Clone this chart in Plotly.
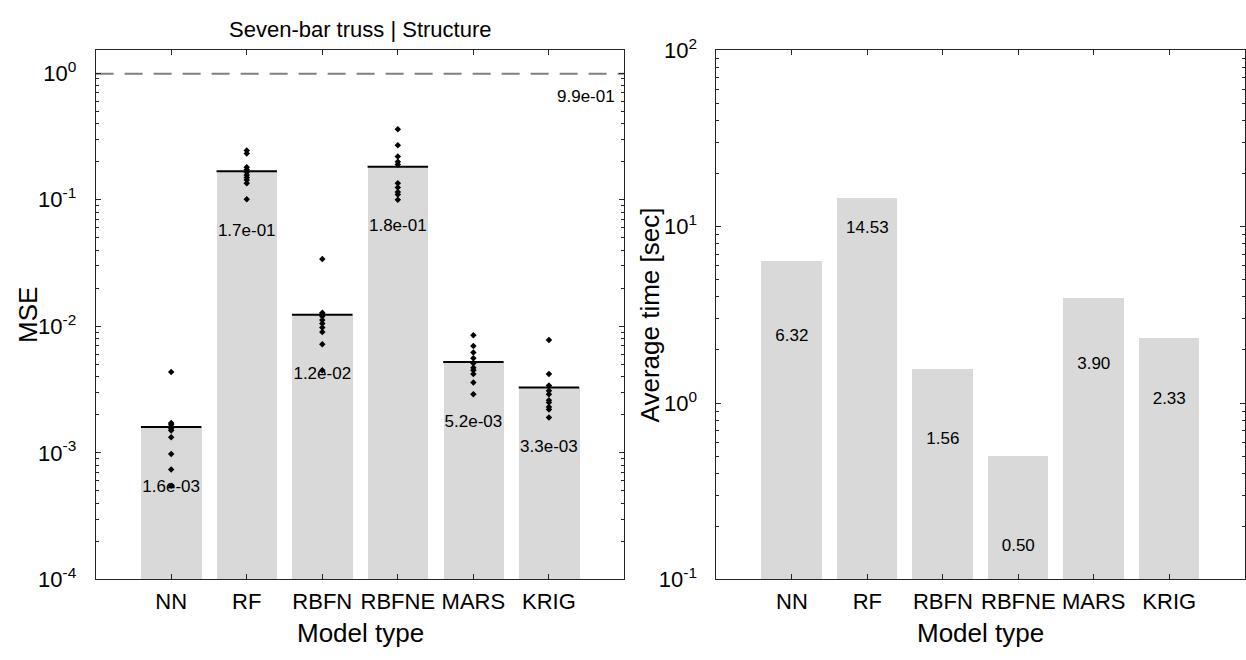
import plotly.graph_objects as go
import numpy as np

# Surrogate model types
models = ["NN", "RF", "RBFN", "RBFNE", "MARS", "KRIG"]

# Per-fold test MSE for each model type
mse_nn = [4.36e-3, 1.72e-3, 1.68e-3, 1.62e-3, 1.55e-3, 1.50e-3, 1.33e-3, 9.8e-4, 7.4e-4, 5.5e-4]
mse_rf = [0.245, 0.232, 0.181, 0.173, 0.165, 0.157, 0.150, 0.143, 0.135, 0.101]
mse_rbfn = [0.034, 0.0128, 0.0125, 0.0120, 0.0112, 0.0105, 0.0098, 0.0090, 0.0072, 0.0045]
mse_rbfne = [0.36, 0.27, 0.22, 0.20, 0.19, 0.135, 0.125, 0.115, 0.11, 0.10]
mse_mars = [0.0085, 0.0070, 0.0062, 0.0056, 0.0051, 0.0047, 0.0045, 0.0042, 0.0036, 0.0029]
mse_krig = [0.0078, 0.0042, 0.0034, 0.0031, 0.0029, 0.0026, 0.0025, 0.0023, 0.0022, 0.0019]

# Reference MSE level (dashed line)
mse_reference = 0.99

# Average training time per model type [sec]
avg_time = [6.32, 14.53, 1.56, 0.50, 3.90, 2.33]

mse_folds = [mse_nn, mse_rf, mse_rbfn, mse_rbfne, mse_mars, mse_krig]
mse_mean = [float(np.mean(v)) for v in mse_folds]
xpos = np.arange(1, len(models) + 1)

W, H = 1246, 660
FONT = "Liberation Sans, Arial, Helvetica, sans-serif"
BAR = "#d9d9d9"
AX = "#262626"
BW = 0.8
# how far (as a factor) each time label sits below the top of its bar
time_label_drop = [2.67, 1.49, 2.51, 3.25, 2.37, 2.24]

fig = go.Figure()

# ---- left panel: MSE ----
fig.add_trace(go.Bar(x=xpos, y=mse_mean, width=BW, marker=dict(color=BAR, line=dict(width=0)),
                     xaxis="x", yaxis="y", showlegend=False, hoverinfo="skip"))

px_, py_ = [], []
for i, vals in enumerate(mse_folds):
    px_ += [xpos[i]] * len(vals)
    py_ += vals
fig.add_trace(go.Scatter(x=px_, y=py_, mode="markers",
                         marker=dict(symbol="diamond", size=5, color="black"),
                         xaxis="x", yaxis="y", showlegend=False))

lx, ly = [], []
for i, m in enumerate(mse_mean):
    lx += [xpos[i] - BW / 2, xpos[i] + BW / 2, None]
    ly += [m, m, None]
fig.add_trace(go.Scatter(x=lx, y=ly, mode="lines", line=dict(color="black", width=2),
                         xaxis="x", yaxis="y", showlegend=False))

fig.add_trace(go.Scatter(x=xpos, y=[m / 3 for m in mse_mean], mode="text",
                         text=[f"{m:.1e}" for m in mse_mean],
                         textfont=dict(family=FONT, size=17, color="black"),
                         xaxis="x", yaxis="y", showlegend=False))

fig.add_trace(go.Scatter(x=[0, 7], y=[mse_reference] * 2, mode="lines",
                         line=dict(color="#808080", width=2, dash="18px,11px"),
                         xaxis="x", yaxis="y", showlegend=False))
fig.add_annotation(x=7, y=np.log10(mse_reference / 1.5), xref="x", yref="y",
                   text=f"{mse_reference:.1e}", showarrow=False, xanchor="right", xshift=-8,
                   yanchor="middle", font=dict(family=FONT, size=17, color="black"))

# ---- right panel: training time ----
fig.add_trace(go.Bar(x=xpos, y=avg_time, width=BW, marker=dict(color=BAR, line=dict(width=0)),
                     xaxis="x2", yaxis="y2", showlegend=False, hoverinfo="skip"))
fig.add_trace(go.Scatter(x=xpos, y=[t / d for t, d in zip(avg_time, time_label_drop)],
                         mode="text", text=[f"{t:.2f}" for t in avg_time],
                         textfont=dict(family=FONT, size=17, color="black"),
                         xaxis="x2", yaxis="y2", showlegend=False))

def log_ticks(lo, hi):
    major = [10.0 ** k for k in range(lo, hi + 1)]
    text = [f"10<sup>{k}</sup>" for k in range(lo, hi + 1)]
    minor = [d * 10.0 ** k for k in range(lo, hi + 1) for d in range(2, 10)]
    return major, text, minor

common_x = dict(range=[0, 7], tickmode="array", tickvals=list(xpos), ticktext=models,
                ticks="inside", ticklen=5, tickcolor=AX, showline=True, linecolor=AX,
                linewidth=1, mirror="allticks", showgrid=False, zeroline=False,
                ticklabelstandoff=2,
                tickfont=dict(family=FONT, size=22, color="black"))

def common_y(lo, hi, rng):
    major, text, minor = log_ticks(lo, hi)
    return dict(type="log", range=rng, tickmode="array", tickvals=major, ticktext=text,
                ticks="inside", ticklen=5, tickcolor=AX, showline=True, linecolor=AX,
                linewidth=1, mirror="allticks", showgrid=False, zeroline=False,
                ticklabelstandoff=14,
                tickfont=dict(family=FONT, size=22, color="black"),
                minor=dict(tickmode="array", tickvals=minor, ticks="inside", ticklen=3,
                           tickcolor=AX, showgrid=False))

x1 = [95.7 / W, 625 / W]
x2 = [717 / W, 1245.7 / W]
yd = [1 - 589.3 / H, 1 - 36 / H]

fig.update_layout(
    width=W, height=H, margin=dict(l=0, r=0, t=0, b=0),
    paper_bgcolor="white", plot_bgcolor="white", bargap=0,
    font=dict(family=FONT, color="black"),
    xaxis=dict(domain=x1, anchor="y", **common_x),
    yaxis=dict(domain=yd, anchor="x", **common_y(-4, 0, [-4, 0.18])),
    xaxis2=dict(domain=x2, anchor="y2", **common_x),
    yaxis2=dict(domain=yd, anchor="x2", **common_y(-1, 2, [-1, 2])),
)

# titles and axis labels
fig.add_annotation(x=(x1[0] + x1[1]) / 2, y=1 - 14 / H, xref="paper", yref="paper",
                   text="Seven-bar truss | Structure", showarrow=False, xanchor="center",
                   font=dict(family=FONT, size=22, color="black"), yanchor="middle")
for xd in (x1, x2):
    fig.add_annotation(x=(xd[0] + xd[1]) / 2, y=1 - 645 / H, xref="paper", yref="paper",
                       text="Model type", showarrow=False, xanchor="center",
                       font=dict(family=FONT, size=26, color="black"), yanchor="middle")
fig.add_annotation(x=28 / W, y=(yd[0] + yd[1]) / 2, xref="paper", yref="paper",
                   text="MSE", showarrow=False, textangle=-90,
                   font=dict(family=FONT, size=26, color="black"), xanchor="center",
                   yanchor="middle")
fig.add_annotation(x=650 / W, y=(yd[0] + yd[1]) / 2, xref="paper", yref="paper",
                   text="Average time [sec]", showarrow=False, textangle=-90,
                   font=dict(family=FONT, size=26, color="black"), xanchor="center",
                   yanchor="middle")

fig.write_html("out.html")
